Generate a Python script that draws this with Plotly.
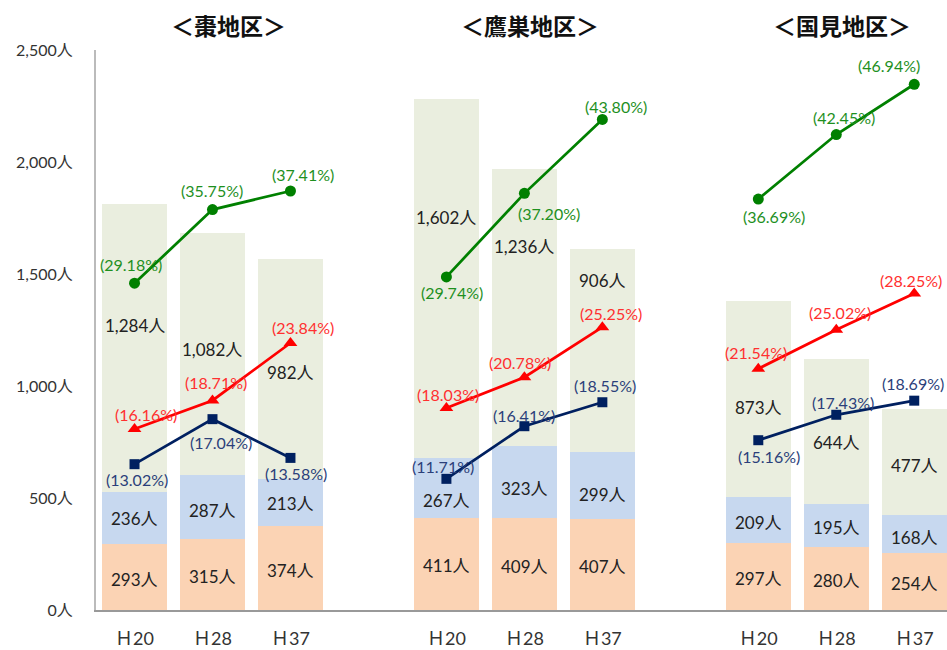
import plotly.graph_objects as go

# --- data ---
areas = ["＜棗地区＞", "＜鷹巣地区＞", "＜国見地区＞"]
years = ["Ｈ20", "Ｈ28", "Ｈ37"]

young = [293, 315, 374, 411, 409, 407, 297, 280, 254]        # bottom
middle = [236, 287, 213, 267, 323, 299, 209, 195, 168]        # middle
elder = [1284, 1082, 982, 1602, 1236, 906, 873, 644, 477]     # top

pct_green = [29.18, 35.75, 37.41, 29.74, 37.20, 43.80, 36.69, 42.45, 46.94]
pct_red = [16.16, 18.71, 23.84, 18.03, 20.78, 25.25, 21.54, 25.02, 28.25]
pct_navy = [13.02, 17.04, 13.58, 11.71, 16.41, 18.55, 15.16, 17.43, 18.69]

# label placement (layout only): top-segment label heights, px nudges
elder_label_y = [1268, 1165, 1062, 1754, 1625, 1473, 906, 746, 647]
middle_nudge = [-1, -3, -1, -12, -6, -9, -2, -2, -3]
green_off = [(-4, 19), (0, 19), (13, 17), (6, -16), (25, -20), (14, 13), (16, -17), (8, 17), (-25, 19)]
red_off = [(11, 15), (4, 18), (13, 15), (2, 14), (-4, 15), (9, 14), (-2, 16), (4, 17), (-3, 13)]
navy_off = [(2, -15), (9, -23), (6, -16), (-3, 12), (0, 11), (3, 17), (11, -16), (7, 12), (-1, 17)]
title_x = [1.2, 1.07, 1.07]

# one empty slot between districts
xs = [g * 4 + i for g in range(len(areas)) for i in range(len(years))]
xlabels = [y for _ in areas for y in years]

FONT = "Lato, 'Noto Sans CJK JP', sans-serif"
JP = "'Noto Sans CJK JP', sans-serif"

fig = go.Figure()

bar_cols = ["#FBD3B4", "#C7D8EF", "#EAEEDF"]
for vals, col in zip([young, middle, elder], bar_cols):
    fig.add_trace(go.Bar(x=xs, y=vals, marker=dict(color=col, line_width=0),
                         width=0.83, showlegend=False, hoverinfo="skip"))

# segment labels
ann = []
lab_font = dict(size=17, color="#222", family=FONT)
for i, x in enumerate(xs):
    ann.append(dict(x=x, y=young[i] / 2, text=f"{young[i]:,}人", showarrow=False,
                    yshift=-2, font=lab_font))
    ann.append(dict(x=x, y=young[i] + middle[i] / 2, text=f"{middle[i]:,}人", showarrow=False,
                    yshift=middle_nudge[i], font=lab_font))
    ann.append(dict(x=x, y=elder_label_y[i], text=f"{elder[i]:,}人", showarrow=False, font=lab_font))

lines = [
    (pct_green, "#008000", "#1E901E", "circle", 11, green_off),
    (pct_red, "#FF0000", "#FF3030", "triangle-up", 12, red_off),
    (pct_navy, "#002060", "#2B3F7A", "square", 10, navy_off),
]
for vals, lc, tc, sym, sz, off in lines:
    for g in range(len(areas)):
        sl = slice(g * 3, g * 3 + 3)
        fig.add_trace(go.Scatter(
            x=xs[sl], y=vals[sl], yaxis="y2", mode="lines+markers",
            line=dict(color=lc, width=2.75),
            marker=dict(symbol=sym, size=sz, color=lc),
            showlegend=False, hoverinfo="skip", cliponaxis=False))
    for i, x in enumerate(xs):
        ann.append(dict(x=x, y=vals[i], yref="y2", text=f"({vals[i]:.2f}%)", showarrow=False,
                        xshift=off[i][0], yshift=off[i][1],
                        font=dict(size=16, color=tc, family=FONT)))

for g, name in enumerate(areas):
    ann.append(dict(x=g * 4 + title_x[g], y=1.045, yref="paper", yanchor="middle", text=name,
                    showarrow=False, font=dict(size=23, color="#111", family=JP, weight=700)))

yticks = [0, 500, 1000, 1500, 2000, 2500]

fig.update_layout(
    barmode="stack",
    width=947, height=650,
    margin=dict(l=96, r=0, t=50, b=40),
    paper_bgcolor="white", plot_bgcolor="white",
    annotations=ann,
    xaxis=dict(range=[-0.494, 10.42], tickvals=xs, ticktext=xlabels,
               showline=True, linecolor="#999", linewidth=1.5, ticks="",
               showgrid=False, zeroline=False, automargin=False, ticklabelstandoff=12,
               tickfont=dict(size=18, color="#333", family=FONT)),
    yaxis=dict(range=[0, 2500], tickvals=yticks, ticktext=[f"{v:,}人" for v in yticks],
               showline=True, linecolor="#BBB", linewidth=2, showgrid=False,
               zeroline=False, ticks="", ticklabelstandoff=18, automargin=False,
               tickfont=dict(size=16, color="#333", family=FONT)),
    yaxis2=dict(range=[0, 50], overlaying="y", visible=False),
)

fig.write_html("out.html", config={"displayModeBar": False},
               post_script="document.body.style.margin='0';")
